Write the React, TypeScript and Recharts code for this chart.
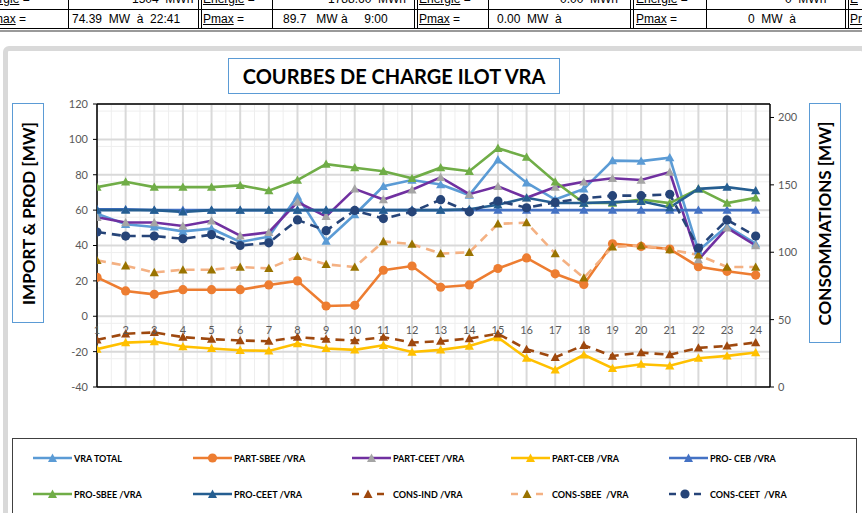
import React from 'react';
import {
  ComposedChart,
  Line,
  XAxis,
  YAxis,
  CartesianGrid,
  ReferenceLine,
} from 'recharts';

// heures
const HOURS = [1, 2, 3, 4, 5, 6, 7, 8, 9, 10, 11, 12, 13, 14, 15, 16, 17, 18, 19, 20, 21, 22, 23, 24];

// axe gauche (IMPORT & PROD)
const vraTotal = [58, 52, 50.5, 48, 49.5, 42, 45, 68, 42.5, 57.5, 73.5, 77, 74.5, 68.5, 88.5, 75.5, 66, 72, 88, 87.7, 89.7, 37, 51, 41];
const partSbee = [22, 14.3, 12.4, 15, 15, 15, 17.7, 20, 5.8, 6.2, 26, 28.4, 16.4, 17.7, 27, 33, 24, 18, 41, 39.5, 38, 28, 25.4, 23.3];
const partCeet = [56, 53, 53, 51, 54, 45.5, 47.5, 64.5, 56.5, 72, 66, 71.5, 78.5, 69, 73.5, 67, 73, 76, 78, 77, 81.5, 32, 50, 40];
const partCeb = [-18.6, -14.9, -14.3, -17.1, -18.2, -19.2, -19.6, -15.4, -18.2, -19, -16.4, -20.2, -19, -16.8, -12, -23.7, -30.3, -21.8, -29.4, -27.1, -28, -23.7, -22.4, -20.5];
const proCeb = [60.5, 60.5, 60, 60, 60, 60, 60, 60, 60, 60, 60, 60, 60, 60, 60, 60, 60, 60, 60, 60, 60, 60, 60, 60];
const proSbee = [73, 76, 73, 73, 73, 74, 71, 77, 86, 84, 82, 78, 84, 82, 95, 90, 76, 64, 64, 66, 64, 72, 64, 67];
const proCeet = [60, 60, 60, 59, 60, 60, 60, 60, 60, 60, 60, 60, 60, 60.5, 63, 67, 64, 64, 64.5, 65, 61.5, 72, 73, 71];

// axe droit (CONSOMMATIONS)
const consInd = [35, 39.5, 40.5, 37, 35.5, 34.5, 34, 37, 35.5, 34.5, 37, 33, 34, 36, 39.5, 28, 22, 31, 23, 25.5, 24, 29, 30.5, 33];
const consSbee = [94, 90, 85, 87, 87, 89, 88, 97, 91, 89, 108, 106, 99, 100, 121, 122, 99, 81, 104, 105, 102, 98, 89, 89];
const consCeet = [115, 112, 112, 110, 113, 105, 107, 124, 116, 131, 125, 130, 139, 130, 138, 133, 137, 140, 142, 142, 143, 103, 124, 112];

const LEFT_TICKS = [-40, -20, 0, 20, 40, 60, 80, 100, 120];
const RIGHT_TICKS = [0, 50, 100, 150, 200];
const LEFT_MINOR = [-36, -32, -28, -24, -16, -12, -8, -4, 4, 8, 12, 16, 24, 28, 32, 36, 44, 48, 52, 56, 64, 68, 72, 76, 84, 88, 92, 96, 104, 108, 112, 116];
const X_MINOR = [1.5, 2.5, 3.5, 4.5, 5.5, 6.5, 7.5, 8.5, 9.5, 10.5, 11.5, 12.5, 13.5, 14.5, 15.5, 16.5, 17.5, 18.5, 19.5, 20.5, 21.5, 22.5, 23.5];

const data = HOURS.map((h, i) => ({
  h,
  vraTotal: vraTotal[i],
  partSbee: partSbee[i],
  partCeet: partCeet[i],
  partCeb: partCeb[i],
  proCeb: proCeb[i],
  proSbee: proSbee[i],
  proCeet: proCeet[i],
  consInd: consInd[i],
  consSbee: consSbee[i],
  consCeet: consCeet[i],
}));

const PLOT_TOP = 104;
const PLOT_BOTTOM = 387;
const ZERO_Y = PLOT_TOP + (PLOT_BOTTOM - PLOT_TOP) * 120 / 160;
const FONT = 'Lato, "Open Sans", sans-serif';

const triangle = (fill: string, s = 4.6) => (props: any) => {
  const { cx, cy, index } = props;
  if (cx == null || cy == null) return <g key={index} />;
  return (
    <polygon
      key={index}
      points={`${cx},${cy - s} ${cx + s},${cy + s * 0.8} ${cx - s},${cy + s * 0.8}`}
      fill={fill}
    />
  );
};

const circle = (fill: string) => ({ r: 4.6, fill, stroke: fill, strokeWidth: 0 });

type Serie = {
  key: string;
  name: string;
  stroke: string;
  marker: 'tri' | 'dot';
  markerColor: string;
  dashed?: boolean;
  axis: 'left' | 'right';
};

const SERIES: Serie[] = [
  { key: 'vraTotal', name: 'VRA TOTAL', stroke: '#5B9BD5', marker: 'tri', markerColor: '#5B9BD5', axis: 'left' },
  { key: 'partSbee', name: 'PART-SBEE /VRA', stroke: '#ED7D31', marker: 'dot', markerColor: '#ED7D31', axis: 'left' },
  { key: 'partCeet', name: 'PART-CEET /VRA', stroke: '#7030A0', marker: 'tri', markerColor: '#A5A5A5', axis: 'left' },
  { key: 'partCeb', name: 'PART-CEB /VRA', stroke: '#FFC000', marker: 'tri', markerColor: '#FFC000', axis: 'left' },
  { key: 'proCeb', name: 'PRO- CEB /VRA', stroke: '#4472C4', marker: 'tri', markerColor: '#4472C4', axis: 'left' },
  { key: 'proSbee', name: 'PRO-SBEE /VRA', stroke: '#70AD47', marker: 'tri', markerColor: '#70AD47', axis: 'left' },
  { key: 'proCeet', name: 'PRO-CEET /VRA', stroke: '#255E91', marker: 'tri', markerColor: '#255E91', axis: 'left' },
  { key: 'consInd', name: 'CONS-IND /VRA', stroke: '#9E480E', marker: 'tri', markerColor: '#9E480E', dashed: true, axis: 'right' },
  { key: 'consSbee', name: 'CONS-SBEE  /VRA', stroke: '#F4B183', marker: 'tri', markerColor: '#997300', dashed: true, axis: 'right' },
  { key: 'consCeet', name: 'CONS-CEET  /VRA', stroke: '#264478', marker: 'dot', markerColor: '#264478', dashed: true, axis: 'right' },
];

const HourTick = (props: any) => (
  <text x={props.x} y={ZERO_Y + 18} textAnchor="middle" fill="#595959" fontSize={11} fontFamily={FONT}>
    {props.payload.value}
  </text>
);

const LEGEND_X = [33, 193, 352, 511, 669];
const LEGEND_Y = [458, 494];

const LegendMark = ({ s }: { s: Serie }) => {
  if (s.dashed) {
    return (
      <svg width={32} height={12} style={{ display: 'block' }}>
        <line x1={0} y1={6} x2={7} y2={6} stroke={s.stroke} strokeWidth={2.5} />
        <line x1={25} y1={6} x2={32} y2={6} stroke={s.stroke} strokeWidth={2.5} />
        {s.marker === 'tri' ? (
          <polygon points="16,1.5 20.5,10 11.5,10" fill={s.markerColor} />
        ) : (
          <circle cx={16} cy={6} r={4.6} fill={s.markerColor} />
        )}
      </svg>
    );
  }
  return (
    <svg width={39} height={12} style={{ display: 'block' }}>
      <line x1={0} y1={6} x2={39} y2={6} stroke={s.stroke} strokeWidth={2.5} />
      {s.marker === 'tri' ? (
        <polygon points="19.5,1.5 24,10 15,10" fill={s.markerColor} />
      ) : (
        <circle cx={19.5} cy={6} r={4.6} fill={s.markerColor} />
      )}
    </svg>
  );
};

const cell = (x: number, y: number, text: React.ReactNode, extra: React.CSSProperties = {}) => (
  <div style={{ position: 'absolute', left: x, top: y, fontSize: 12, fontFamily: '"Liberation Sans", Arial, sans-serif', color: '#000', whiteSpace: 'pre', lineHeight: '14px', ...extra }}>
    {text}
  </div>
);

const u = (t: string) => <span style={{ textDecoration: 'underline' }}>{t}</span>;

const TopTable = () => {
  const vSingle = [68, 272, 488, 706];
  const vDouble = [198, 414, 630, 845];
  return (
    <div style={{ position: 'absolute', left: 0, top: 0, width: 862, height: 34 }}>
      {cell(-22, -8, <>{u('Energie')} =</>)}
      {cell(132, -8, '1504  MWh')}
      {cell(203, -8, <>{u('Energie')} =</>)}
      {cell(328, -8, '1788.60  MWh')}
      {cell(419, -8, <>{u('Energie')} =</>)}
      {cell(560, -8, '0.00  MWh')}
      {cell(636, -8, <>{u('Energie')} =</>)}
      {cell(785, -8, '0  MWh')}
      {cell(850, -8, u('E'))}

      {cell(-15, 12, <>{u('Pmax')} =</>)}
      {cell(72, 12, '74.39  MW  à  22:41')}
      {cell(203, 12, <>{u('Pmax')} =</>)}
      {cell(283, 12, '89.7   MW à     9:00')}
      {cell(419, 12, <>{u('Pmax')} =</>)}
      {cell(497, 12, '0.00  MW  à')}
      {cell(636, 12, <>{u('Pmax')} =</>)}
      {cell(748, 12, '0  MW  à')}
      {cell(850, 12, u('Pr'))}

      <div style={{ position: 'absolute', left: 0, top: 9, width: 862, height: 1, background: '#000' }} />
      <div style={{ position: 'absolute', left: 0, top: 28, width: 862, height: 1, background: '#000' }} />
      <div style={{ position: 'absolute', left: 0, top: 30, width: 862, height: 2, background: '#9a9a9a' }} />
      {vSingle.map((x) => (
        <div key={x} style={{ position: 'absolute', left: x, top: 0, width: 1, height: 29, background: '#000' }} />
      ))}
      {vDouble.map((x) => (
        <React.Fragment key={x}>
          <div style={{ position: 'absolute', left: x, top: 0, width: 1, height: 29, background: '#000' }} />
          <div style={{ position: 'absolute', left: x + 3, top: 0, width: 1, height: 29, background: '#000' }} />
        </React.Fragment>
      ))}
    </div>
  );
};

const boxText: React.CSSProperties = {
  position: 'absolute',
  border: '1px solid #5B9BD5',
  background: '#fff',
  fontFamily: FONT,
  fontWeight: 700,
  color: '#000',
  display: 'flex',
  alignItems: 'center',
  justifyContent: 'center',
  boxSizing: 'border-box',
};

export default function App() {
  return (
    <div style={{ position: 'fixed', left: 0, top: 0, width: 862, height: 513, overflow: 'hidden', background: '#fff' }}>
      <TopTable />

      {/* cadre du graphique */}
      <div style={{ position: 'absolute', left: 3, top: 46, width: 864, height: 500, border: '5px solid #d9d9d9', borderRadius: 6, boxSizing: 'border-box' }} />

      <div style={{ position: 'absolute', left: 0, top: 0 }}>
        <ComposedChart
          width={862}
          height={513}
          data={data}
          margin={{ top: PLOT_TOP, right: 52, left: 57, bottom: 106 }}
        >
          <CartesianGrid
            yAxisId="left"
            horizontalValues={LEFT_MINOR}
            verticalValues={X_MINOR}
            stroke="#eeeeee"
            strokeWidth={1}
          />
          <CartesianGrid
            yAxisId="left"
            horizontalValues={LEFT_TICKS}
            verticalValues={HOURS}
            stroke="#d9d9d9"
            strokeWidth={2}
          />
          <XAxis
            dataKey="h"
            type="number"
            domain={[1, 24.5]}
            ticks={HOURS}
            allowDataOverflow
            axisLine={false}
            tickLine={false}
            tick={<HourTick />}
            height={20}
          />
          <YAxis
            yAxisId="left"
            domain={[-40, 120]}
            ticks={LEFT_TICKS}
            allowDataOverflow
            width={40}
            axisLine={{ stroke: '#000', strokeWidth: 1.5 }}
            tickLine={{ stroke: '#000' }}
            tickSize={4}
            tickMargin={5}
            tick={{ fill: '#595959', fontSize: 11, fontFamily: FONT }}
          />
          <YAxis
            yAxisId="right"
            orientation="right"
            domain={[0, 210]}
            ticks={RIGHT_TICKS}
            allowDataOverflow
            width={40}
            axisLine={{ stroke: '#000', strokeWidth: 1.5 }}
            tickLine={{ stroke: '#000' }}
            tickSize={4}
            tickMargin={4}
            tick={{ fill: '#595959', fontSize: 11, fontFamily: FONT }}
          />
          <ReferenceLine yAxisId="left" y={120} stroke="#000" strokeWidth={1.5} />
          <ReferenceLine yAxisId="left" y={-40} stroke="#000" strokeWidth={1.5} />
          {SERIES.map((s) => (
            <Line
              key={s.key}
              yAxisId={s.axis}
              dataKey={s.key}
              name={s.name}
              type="linear"
              stroke={s.stroke}
              strokeWidth={2.6}
              strokeDasharray={s.dashed ? '9 6' : undefined}
              dot={s.marker === 'tri' ? triangle(s.markerColor) : circle(s.markerColor)}
              activeDot={false}
              isAnimationActive={false}
            />
          ))}
        </ComposedChart>
      </div>

      {/* titre */}
      <div style={{ ...boxText, left: 228, top: 58, width: 332, height: 36, fontSize: 20 }}>
        COURBES DE CHARGE ILOT VRA
      </div>

      {/* titres d'axes */}
      <div style={{ ...boxText, left: 12, top: 103, width: 32, height: 220 }}>
        <div style={{ transform: 'rotate(-90deg)', whiteSpace: 'nowrap', fontSize: 17 }}>IMPORT &amp; PROD [MW]</div>
      </div>
      <div style={{ ...boxText, left: 809, top: 103, width: 32, height: 240 }}>
        <div style={{ transform: 'rotate(-90deg)', whiteSpace: 'nowrap', fontSize: 17 }}>CONSOMMATIONS [MW]</div>
      </div>

      {/* légende */}
      <div style={{ position: 'absolute', left: 12, top: 438, width: 845, height: 90, border: '1px solid #404040', boxSizing: 'border-box', background: '#fff' }} />
      {SERIES.map((s, i) => {
        const col = i % 5;
        const row = Math.floor(i / 5);
        return (
          <div
            key={s.key}
            style={{
              position: 'absolute',
              left: LEGEND_X[col],
              top: LEGEND_Y[row] - 6,
              display: 'flex',
              alignItems: 'center',
              height: 12,
            }}
          >
            <LegendMark s={s} />
            <span style={{ marginLeft: s.dashed ? 9 : 2, fontFamily: FONT, fontWeight: 700, fontSize: 9, color: '#000', whiteSpace: 'pre' }}>
              {s.name}
            </span>
          </div>
        );
      })}
    </div>
  );
}
